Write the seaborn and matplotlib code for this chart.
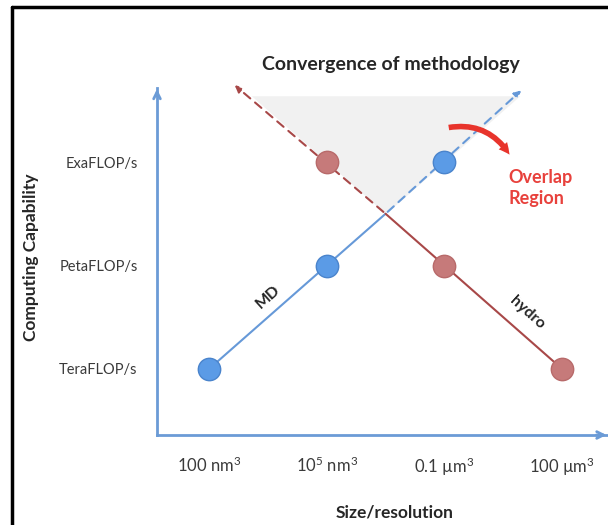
import numpy as np
import pandas as pd
import seaborn as sns
import matplotlib.pyplot as plt
from matplotlib.patches import FancyArrowPatch

# categories on each axis
sizes = ["100 nm$^3$", "10$^5$ nm$^3$", "0.1 µm$^3$", "100 µm$^3$"]
levels = ["TeraFLOP/s", "PetaFLOP/s", "ExaFLOP/s"]

# points for each method: index into sizes / levels
md_size = [0, 1, 2]
md_level = [0, 1, 2]
hydro_size = [1, 2, 3]
hydro_level = [2, 1, 0]

# where the dashed continuations end
md_ext_end = [2.67, 2.71]
hydro_ext_end = [0.2, 2.76]
shade_top = 2.64

sns.set_theme(style="white")
plt.rcParams['font.family'] = ['Lato', 'DejaVu Sans']
plt.rcParams['mathtext.fontset'] = 'custom'
plt.rcParams['mathtext.rm'] = 'Lato'
plt.rcParams['mathtext.it'] = 'Lato'
plt.rcParams['mathtext.default'] = 'regular'

blue = "#6699d8"
red = "#a84848"
axis_col = "#6b9bd6"

fig = plt.figure(figsize=(6.08, 5.25), dpi=100)
ax = fig.add_axes([157 / 608, 1 - 435 / 525, 450 / 608, 347 / 525])
ax.set_xlim(-0.4418, 3.381)
ax.set_ylim(-0.6377, 2.715)

df_md = pd.DataFrame({"x": md_size, "y": md_level})
df_hy = pd.DataFrame({"x": hydro_size, "y": hydro_level})

# crossing of the two trends
bm, cm = np.polyfit(md_size, md_level, 1)
bh, ch = np.polyfit(hydro_size, hydro_level, 1)
xc = (ch - cm) / (bm - bh)
yc = bm * xc + cm

# grey overlap triangle
xs = np.linspace((shade_top - ch) / bh, (shade_top - cm) / bm, 50)
lower = np.maximum(bm * xs + cm, bh * xs + ch)
ax.fill_between(xs, lower, shade_top, color="#f1f1f1", lw=0, zorder=0)

# solid parts
sns.lineplot(x=[md_size[0], xc], y=[md_level[0], yc], color=blue, lw=1.5, ax=ax)
sns.lineplot(x=[hydro_size[-1], xc], y=[hydro_level[-1], yc], color=red, lw=1.5, ax=ax)

# dashed continuations with arrow heads
ax.annotate("", xy=md_ext_end, xytext=(xc, yc),
            arrowprops=dict(arrowstyle="-|>", color=blue, lw=1.5, ls=(0, (4, 3)),
                            mutation_scale=10), annotation_clip=False)
ax.annotate("", xy=hydro_ext_end, xytext=(xc, yc),
            arrowprops=dict(arrowstyle="-|>", color=red, lw=1.5, ls=(0, (4, 3)),
                            mutation_scale=10), annotation_clip=False)

# points
sns.scatterplot(data=df_md, x="x", y="y", s=260, color="#5b9be6",
                edgecolor="#4a84cc", linewidth=1, ax=ax, zorder=5)
sns.scatterplot(data=df_hy, x="x", y="y", s=260, color="#c67a7a",
                edgecolor="#b86a6a", linewidth=1, ax=ax, zorder=5)

# axes look
for s in ["top", "right"]:
    ax.spines[s].set_visible(False)
for s in ["left", "bottom"]:
    ax.spines[s].set_color(axis_col)
    ax.spines[s].set_linewidth(2)
ax.set_xticks(range(len(sizes)))
ax.set_xticklabels(sizes)
ax.set_yticks(range(len(levels)))
ax.set_yticklabels(levels)
ax.tick_params(axis="both", direction="inout", length=10, width=1.5,
               color=axis_col, labelcolor="#3a3a3a")
ax.tick_params(axis="x", pad=10, labelsize=12)
ax.tick_params(axis="y", pad=9, labelsize=10.5)
ax.set_xlabel("")
ax.set_ylabel("")
fig.text(395 / 608, 1 - 512 / 525, "Size/resolution", fontsize=12.5,
         fontweight="bold", ha="center", va="center")
fig.text(31 / 608, 1 - 257 / 525, "Computing Capability", fontsize=12.5,
         fontweight="bold", ha="center", va="center", rotation=90)

# axis arrow heads (open)
ax.annotate("", xy=(1.005, 0), xytext=(0.97, 0), xycoords="axes fraction",
            arrowprops=dict(arrowstyle="->", color=axis_col, lw=2,
                            mutation_scale=12), annotation_clip=False)
ax.annotate("", xy=(0, 1.005), xytext=(0, 0.97), xycoords="axes fraction",
            arrowprops=dict(arrowstyle="->", color=axis_col, lw=2,
                            mutation_scale=12), annotation_clip=False)

# annotations
fig.text(391 / 608, 1 - 64 / 525, "Convergence of methodology", fontsize=14,
         fontweight="bold", ha="center", va="center")
ax.text(0.5, 0.7, "MD", fontsize=11.5, fontweight="bold", rotation=42,
        ha="center", va="center")
ax.text(2.7, 0.54, "hydro", fontsize=11.5, fontweight="bold", rotation=-42,
        ha="center", va="center")
fig.text(508 / 608, 1 - 188 / 525, "Overlap\nRegion", fontsize=13,
         fontweight="bold", color="#e8413c", ha="left", va="center",
         linespacing=1.3)
arr = FancyArrowPatch((446 / 608, 1 - 128 / 525), (511 / 608, 1 - 157 / 525),
                      transform=fig.transFigure, connectionstyle="arc3,rad=-0.35",
                      arrowstyle="simple,head_width=8,head_length=8,tail_width=4",
                      color="#e8342c", lw=0)
fig.add_artist(arr)

# frame lines of the original slide
fig.add_artist(plt.Line2D([12 / 608, 12 / 608], [0, 1 - 7 / 525], color="black",
                          lw=2.5, transform=fig.transFigure))
fig.add_artist(plt.Line2D([12 / 608, 1], [1 - 7 / 525, 1 - 7 / 525], color="black",
                          lw=2.5, transform=fig.transFigure))

fig.savefig("out.png", dpi=100)
